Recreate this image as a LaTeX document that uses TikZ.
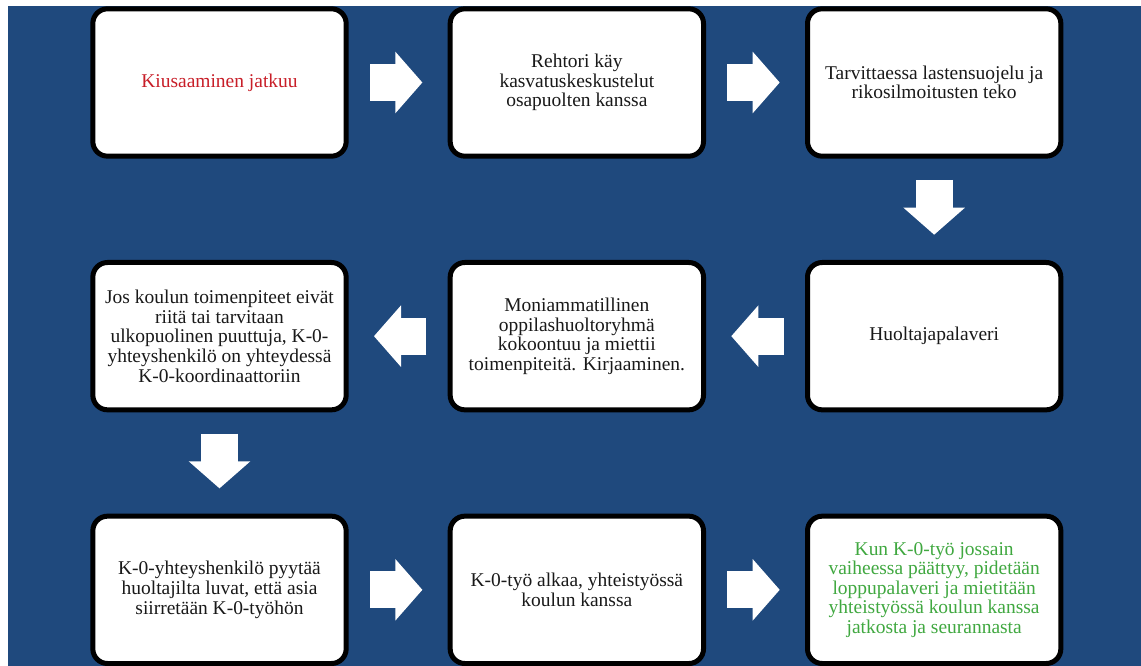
\documentclass[tikz,border=0pt]{standalone}
\usepackage{fontspec}
\setmainfont{Liberation Serif}
\usetikzlibrary{positioning,arrows.meta}
\definecolor{bgblue}{RGB}{31,73,125}
\definecolor{txtred}{RGB}{200,30,40}
\definecolor{txtgreen}{RGB}{64,168,64}

\begin{document}
\begin{tikzpicture}[x=0.75pt, y=-0.75pt, node distance={76pt and 74.25pt},
    stepbox/.style={draw=black, fill=white, line width=3.75pt, rounded corners=11pt,
        minimum width=190pt, minimum height=110.5pt, inner sep=3pt, align=center,
        text=black!90, font=\fontsize{14.6}{14.7}\selectfont},
    flow/.style={white, line width=27.75pt,
        -{Triangle[length=20.25pt, width=46pt, line width=1pt]},
        shorten <=16pt, shorten >=19pt}]
    \useasboundingbox (0,0) rectangle (1141,666);
    \fill[bgblue] (8,6) rectangle (1141,666);
        \node[stepbox, text=txtred] (1) at (219.5,82.5) {Kiusaaminen jatkuu};
        \node[stepbox] (2) [right=of 1] {Rehtori käy\\kasvatuskeskustelut\\osapuolten kanssa};
        \node[stepbox] (3) [right=of 2] {Tarvittaessa lastensuojelu ja\\rikosilmoitusten teko};
        \node[stepbox] (6) [below=of 3] {Huoltajapalaveri};
        \node[stepbox] (5) [left=of 6] {Moniammatillinen\\oppilashuoltoryhmä\\kokoontuu ja miettii\\toimenpiteitä. Kirjaaminen.};
        \node[stepbox] (4) [left=of 5] {Jos koulun toimenpiteet eivät\\riitä tai tarvitaan\\ulkopuolinen puuttuja, K-0-\\yhteyshenkilö on yhteydessä\\K-0-koordinaattoriin};
        \node[stepbox] (7) [below=of 4] {K-0-yhteyshenkilö pyytää\\huoltajilta luvat, että asia\\siirretään K-0-työhön};
        \node[stepbox] (8) [right=of 7] {K-0-työ alkaa, yhteistyössä\\koulun kanssa};
        \node[stepbox, text=txtgreen] (9) [right=of 8] {Kun K-0-työ jossain\\vaiheessa päättyy, pidetään\\loppupalaveri ja mietitään\\yhteistyössä koulun kanssa\\jatkosta ja seurannasta};
        \draw[flow] (1) -- (2);
        \draw[flow] (2) -- (3);
        \draw[flow] (3) -- (6);
        \draw[flow] (6) -- (5);
        \draw[flow] (5) -- (4);
        \draw[flow] (4) -- (7);
        \draw[flow] (7) -- (8);
        \draw[flow] (8) -- (9);
    \end{tikzpicture}
\end{document}
